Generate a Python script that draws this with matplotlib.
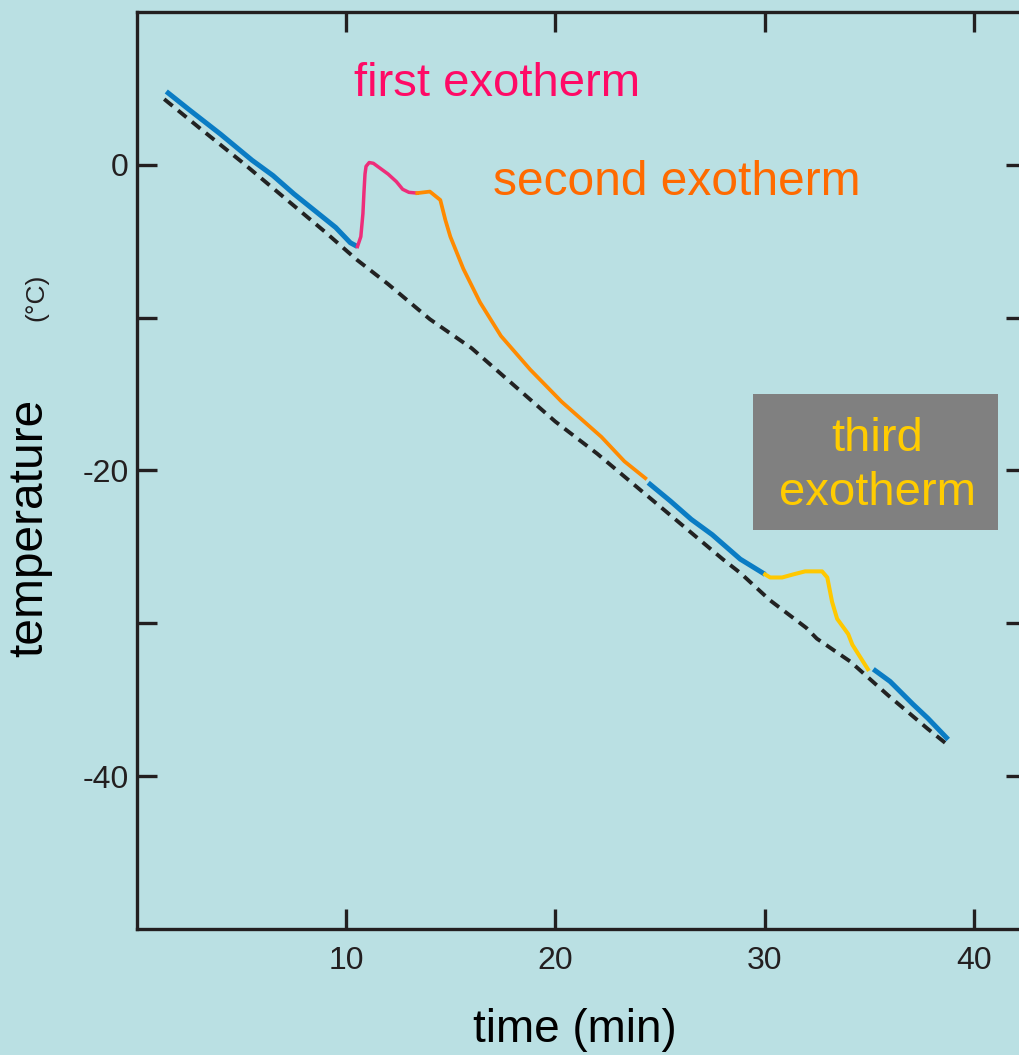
import matplotlib
matplotlib.use("Agg")
import matplotlib.pyplot as plt
from matplotlib.patches import Rectangle

# cooling curve, split by phase (time in min, temperature in degC)
blue1_t = [1.4, 2.5, 4.0, 5.5, 6.5, 7.5, 8.5, 9.5, 10.2, 10.54]
blue1_y = [4.8, 3.6, 2.0, 0.3, -0.7, -1.9, -3.0, -4.1, -5.1, -5.35]

first_t = [10.54, 10.7, 10.8, 10.85, 10.9, 10.95, 11.1, 11.3, 11.6, 12.0, 12.4, 12.7, 13.0, 13.4]
first_y = [-5.35, -4.7, -3.2, -1.8, -0.6, -0.1, 0.15, 0.1, -0.2, -0.6, -1.1, -1.6, -1.8, -1.85]

second_t = [13.4, 14.0, 14.5, 14.74, 14.98, 15.6, 16.4, 17.4, 18.8, 20.3, 22.2, 23.3, 24.3]
second_y = [-1.85, -1.75, -2.3, -3.6, -4.7, -6.8, -9.0, -11.2, -13.4, -15.5, -17.8, -19.4, -20.5]

blue2_t = [24.44, 25.5, 26.5, 27.5, 28.84, 30.03]
blue2_y = [-20.8, -22.0, -23.2, -24.2, -25.8, -26.8]

third_t = [30.03, 30.27, 30.84, 31.37, 31.94, 32.75, 33.0, 33.23, 33.47, 34.0, 34.2, 34.94]
third_y = [-26.8, -27.0, -27.0, -26.8, -26.6, -26.6, -27.0, -28.6, -29.7, -30.7, -31.4, -33.0]

blue3_t = [35.2, 36.0, 37.1, 37.8, 38.78]
blue3_y = [-33.0, -33.8, -35.3, -36.2, -37.6]

# dashed reference (bath) line
ref_t = [1.3, 3.0, 5.0, 7.0, 9.0, 10.5, 12.0, 14.0, 16.0, 18.0, 20.0, 22.0, 24.0,
         26.0, 28.0, 28.84, 30.27, 32.0, 32.5, 34.1, 35.9, 37.8, 38.8]
ref_y = [4.3, 2.4, 0.2, -2.1, -4.4, -6.2, -7.8, -10.1, -12.0, -14.4, -16.8, -18.9, -21.2,
         -23.5, -25.8, -26.7, -28.5, -30.3, -31.0, -32.5, -34.7, -36.9, -38.0]

x_ticks = [10, 20, 30, 40]
y_ticks = [0, -10, -20, -30, -40]
y_labels = ["0", "", "-20", "", "-40"]

bg = "#bae0e3"
blue = "#0a7cc4"
pink = "#ee2d7a"
orange = "#ff8a00"
yellow = "#ffc800"

fig = plt.figure(figsize=(10.19, 10.55), dpi=100, facecolor=bg)
ax = fig.add_axes([137 / 1019, 126 / 1055, 889 / 1019, 917 / 1055])
ax.set_facecolor(bg)

ax.plot(ref_t, ref_y, color="#222222", lw=2.8, linestyle=(0, (2.8, 1.8)))
ax.plot(blue1_t, blue1_y, color=blue, lw=3.6, solid_capstyle="butt")
ax.plot(first_t, first_y, color=pink, lw=2.5)
ax.plot(second_t, second_y, color=orange, lw=2.7)
ax.plot(blue2_t, blue2_y, color=blue, lw=3.6, solid_capstyle="butt")
ax.plot(third_t, third_y, color=yellow, lw=2.9)
ax.plot(blue3_t, blue3_y, color=blue, lw=3.6, solid_capstyle="butt")

ax.set_xlim(0, 42.5)
ax.set_ylim(-50, 10)
ax.set_xticks(x_ticks)
ax.set_yticks(y_ticks)
ax.set_yticklabels(y_labels)

for s in ax.spines.values():
    s.set_linewidth(2.4)
    s.set_color("#231f20")
ax.tick_params(direction="in", length=14.5, width=2.4, color="#231f20",
               top=True, right=True, labelsize=23, labelcolor="#231f20")
ax.tick_params(axis="x", pad=12)
ax.tick_params(axis="y", pad=6)
for lab in ax.get_xticklabels() + ax.get_yticklabels():
    lab.set_family(["Liberation Sans Narrow", "Liberation Sans"])

# annotations
ax.text(17.23, 5.3, "first exotherm", color="#ff0a66", fontsize=34,
        family="Liberation Sans", ha="center", va="center")
ax.text(25.78, -1.15, "second exotherm", color="#ff6a00", fontsize=34.5,
        family="Liberation Sans", ha="center", va="center")
ax.add_patch(Rectangle((29.46, -23.89), 11.71, 8.88, facecolor="#808080",
                       edgecolor="none", zorder=3))
ax.text(35.38, -19.7, "third\nexotherm", color="#ffcc00", fontsize=34,
        family="Liberation Sans", ha="center", va="center", linespacing=1.3,
        zorder=4)

fig.text(575 / 1019, 1 - 1042 / 1055, "time (min)", fontsize=33,
         family="Liberation Sans", ha="center", va="baseline")
fig.text(30 / 1019, 1 - 528 / 1055, "temperature", fontsize=34.5, rotation=90,
         family="Liberation Sans", ha="center", va="center")
fig.text(36 / 1019, 1 - 297 / 1055, "(°C)", fontsize=19, rotation=90,
         family="Liberation Sans", ha="center", va="center", color="#231f20")

fig.savefig("out.png", dpi=100, facecolor=bg)
